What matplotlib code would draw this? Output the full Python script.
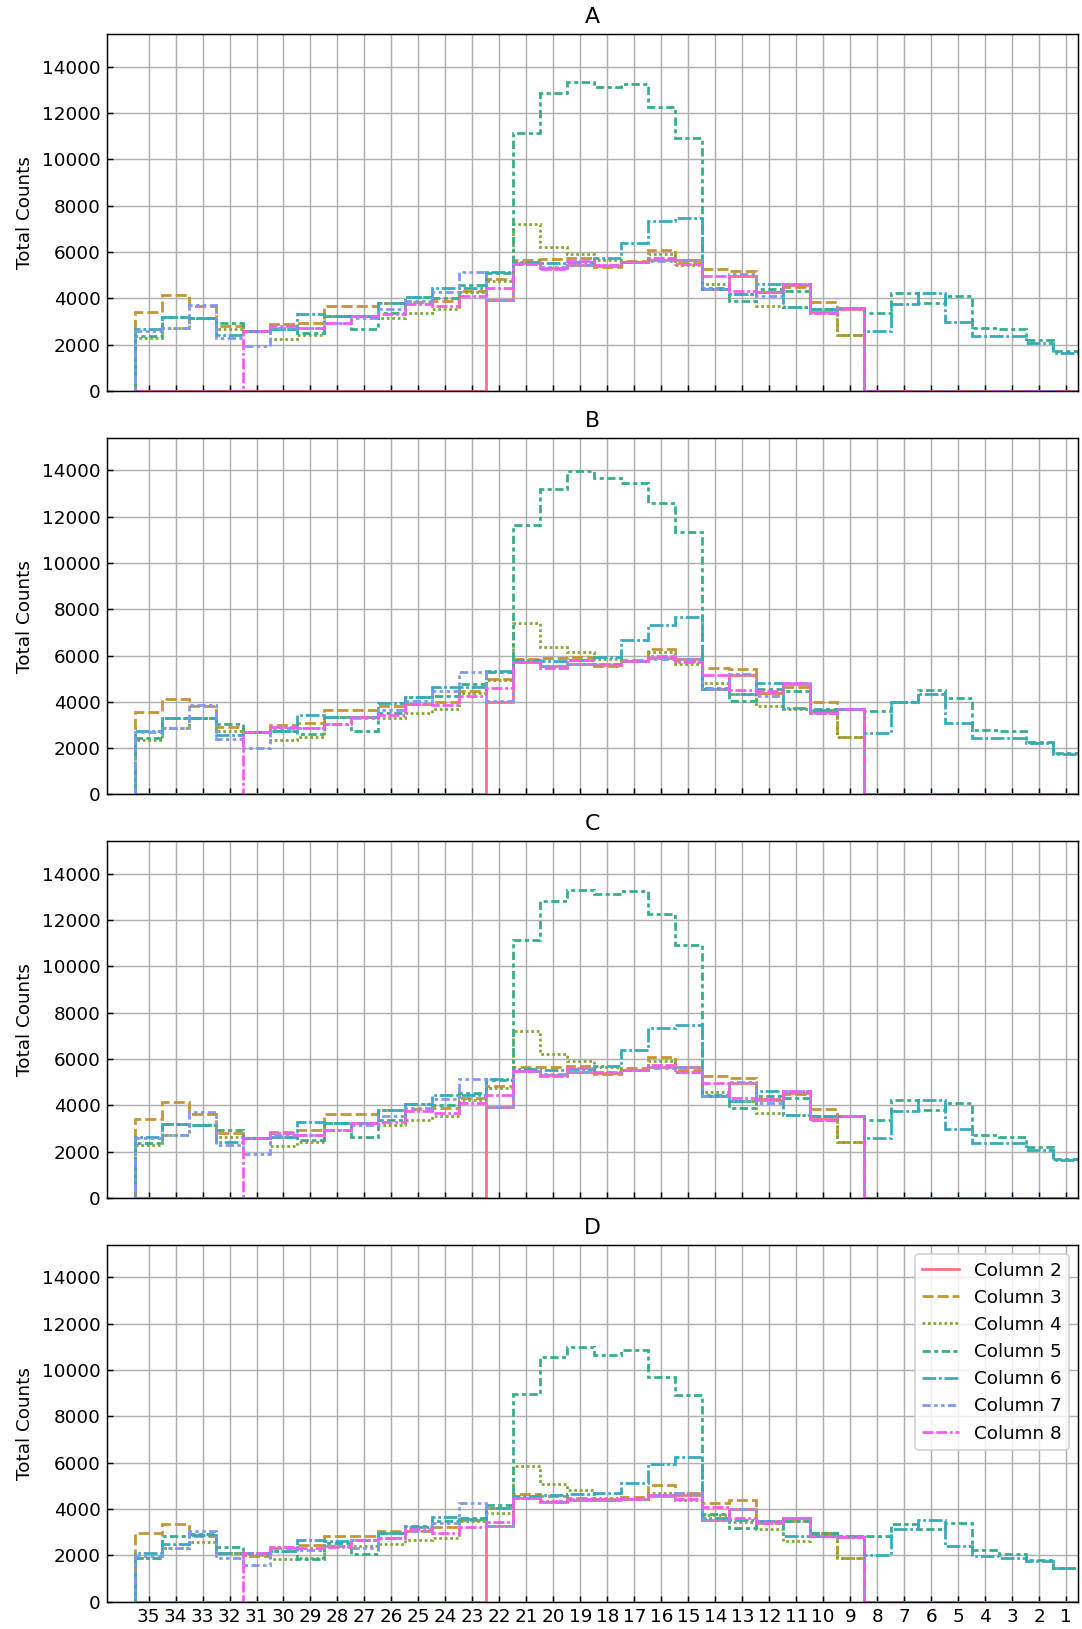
import numpy as np
import matplotlib
matplotlib.use("Agg")
import matplotlib.pyplot as plt
from matplotlib.lines import Line2D
import seaborn as sns

# x labels, left to right
labels = list(range(35, 0, -1))
columns = ["Column 2", "Column 3", "Column 4", "Column 5", "Column 6", "Column 7", "Column 8"]
panels = ["A", "B", "C", "D"]

# ---- Panel A (values for bins 35 ... 1, left to right) ----
A_c2 = [0]*13 + [3920, 5500, 5300, 5450, 5400, 5550, 5650, 5650, 4400, 4950, 4250, 4550, 3400, 3550] + [0]*8
A_c3 = [3410, 4150, 3650, 2800, 2600, 2870, 2950, 3650, 3650, 3800, 3850, 3900, 4300, 4820, 5640, 5680, 5720, 5350, 5600, 6070, 5540, 5250, 5180, 4260, 4480, 3850, 2430] + [0]*8
A_c4 = [2290, 2730, 3160, 2650, 2580, 2240, 2430, 3240, 3240, 3160, 3350, 3550, 4250, 4750, 7210, 6210, 5920, 5640, 5550, 5920, 5450, 4600, 4200, 3680, 3600, 3530, 2430] + [0]*8
A_c5 = [2360, 3200, 3160, 2920, 2580, 2650, 2500, 3240, 2650, 3380, 4040, 4000, 4550, 5100, 11130, 12850, 13320, 13140, 13240, 12280, 10910, 4450, 3890, 4410, 4300, 3550, 3560, 3380, 4230, 3790, 4110, 2720, 2650, 2210, 1700]
A_c6 = [2650, 3200, 3160, 2430, 2580, 2650, 3300, 3240, 3240, 3800, 4040, 4450, 4460, 5150, 5580, 5540, 5580, 5720, 6400, 7330, 7470, 4390, 4170, 4630, 3600, 3530, 3560, 2580, 3750, 4230, 2970, 2360, 2360, 2060, 1650]
A_c7 = [2580, 2730, 3700, 2290, 1920, 2730, 2730, 2940, 3160, 3530, 3900, 4260, 5150, 3910, 5490, 5350, 5450, 5430, 5550, 5600, 5640, 4390, 5030, 4100, 4630, 3380, 3560] + [0]*8
A_c8 = [0]*4 + [2580, 2800, 2730, 2940, 3240, 3300, 3750, 3680, 4100, 4460, 5490, 5250, 5610, 5430, 5550, 5750, 5460, 4960, 4320, 4260, 4630, 3380, 3560] + [0]*8

# ---- Panel B ----
B_c2 = [0]*13 + [4000, 5700, 5550, 5650, 5600, 5750, 5900, 5850, 4550, 5150, 4400, 4750, 3550, 3700] + [0]*8
B_c3 = [3550, 4100, 3800, 2900, 2700, 2980, 3070, 3650, 3650, 3800, 3900, 4000, 4450, 5000, 5850, 5900, 5950, 5550, 5800, 6300, 5750, 5450, 5400, 4400, 4650, 4000, 2500] + [0]*8
B_c4 = [2350, 2850, 3300, 2750, 2700, 2350, 2500, 3350, 3350, 3300, 3500, 3700, 4400, 4950, 7400, 6350, 6150, 5850, 5750, 6150, 5650, 4800, 4350, 3800, 3700, 3650, 2500] + [0]*8
B_c5 = [2450, 3300, 3300, 3050, 2700, 2750, 2600, 3350, 2750, 3500, 4200, 4250, 4750, 5300, 11650, 13200, 13950, 13650, 13450, 12600, 11350, 4600, 4050, 4550, 4450, 3700, 3700, 3600, 4000, 4500, 4150, 2800, 2750, 2250, 1800]
B_c6 = [2750, 3300, 3300, 2550, 2700, 2750, 3450, 3350, 3350, 3950, 4200, 4650, 4650, 5350, 5800, 5750, 5800, 5950, 6650, 7300, 7650, 4550, 4350, 4800, 3750, 3650, 3700, 2650, 4000, 4350, 3100, 2450, 2450, 2200, 1750]
B_c7 = [2700, 2850, 3850, 2400, 2000, 2850, 2850, 3050, 3300, 3650, 4050, 4450, 5300, 4050, 5700, 5550, 5650, 5650, 5750, 5850, 5850, 4550, 5200, 4250, 4800, 3500, 3700] + [0]*8
B_c8 = [0]*4 + [2700, 2900, 2850, 3050, 3350, 3450, 3900, 3850, 4250, 4600, 5700, 5450, 5800, 5650, 5750, 6000, 5700, 5150, 4500, 4450, 4800, 3500, 3700] + [0]*8

# ---- Panel C ----
C_c2 = [0]*13 + [3920, 5500, 5300, 5450, 5400, 5550, 5650, 5650, 4400, 4950, 4250, 4550, 3400, 3550] + [0]*8
C_c3 = [3410, 4150, 3650, 2800, 2600, 2870, 2950, 3650, 3650, 3800, 3850, 3900, 4300, 4820, 5640, 5680, 5720, 5350, 5600, 6070, 5540, 5250, 5180, 4260, 4480, 3850, 2430] + [0]*8
C_c4 = [2290, 2730, 3160, 2650, 2580, 2240, 2430, 3240, 3240, 3160, 3350, 3550, 4250, 4750, 7210, 6210, 5920, 5640, 5550, 5920, 5450, 4600, 4200, 3680, 3600, 3530, 2430] + [0]*8
C_c5 = [2360, 3200, 3160, 2920, 2580, 2650, 2500, 3240, 2650, 3380, 4040, 4000, 4550, 5100, 11130, 12850, 13320, 13140, 13240, 12280, 10910, 4450, 3890, 4410, 4300, 3550, 3560, 3380, 4230, 3790, 4110, 2720, 2650, 2210, 1700]
C_c6 = [2650, 3200, 3160, 2430, 2580, 2650, 3300, 3240, 3240, 3800, 4040, 4450, 4460, 5150, 5580, 5540, 5580, 5720, 6400, 7330, 7470, 4390, 4170, 4630, 3600, 3530, 3560, 2580, 3750, 4230, 2970, 2360, 2360, 2060, 1650]
C_c7 = [2580, 2730, 3700, 2290, 1920, 2730, 2730, 2940, 3160, 3530, 3900, 4260, 5150, 3910, 5490, 5350, 5450, 5430, 5550, 5600, 5640, 4390, 5030, 4100, 4630, 3380, 3560] + [0]*8
C_c8 = [0]*4 + [2580, 2800, 2730, 2940, 3240, 3300, 3750, 3680, 4100, 4460, 5490, 5250, 5610, 5430, 5550, 5750, 5460, 4960, 4320, 4260, 4630, 3380, 3560] + [0]*8

# ---- Panel D ----
D_c2 = [0]*13 + [3270, 4460, 4320, 4400, 4400, 4450, 4550, 4600, 3530, 3990, 3480, 3630, 2830, 2780] + [0]*8
D_c3 = [2970, 3340, 2830, 2100, 1960, 2320, 2440, 2830, 2830, 3050, 3070, 3210, 3530, 4030, 4650, 4560, 4480, 4440, 4500, 5040, 4710, 4250, 4390, 3410, 3500, 2970, 1890] + [0]*8
D_c4 = [1890, 2320, 2580, 2100, 2000, 1860, 1900, 2390, 2390, 2470, 2680, 2730, 3500, 3840, 5860, 5080, 4820, 4470, 4450, 4700, 4390, 3750, 3450, 3120, 2610, 2970, 1890] + [0]*8
D_c5 = [1890, 2830, 2900, 2350, 2100, 2180, 1860, 2540, 2060, 2970, 3260, 3500, 3600, 4170, 8960, 10580, 11010, 10650, 10860, 9680, 8920, 3780, 3170, 3480, 3480, 2970, 2830, 2830, 3340, 3120, 3410, 2250, 2060, 1810, 1450]
D_c6 = [2100, 2470, 2870, 2100, 2100, 2200, 2640, 2600, 2680, 2970, 3220, 3640, 3550, 4030, 4560, 4600, 4630, 4680, 5110, 5940, 6230, 3600, 3530, 3480, 2830, 2830, 2830, 2000, 3120, 3520, 2390, 1960, 1890, 1740, 1450]
D_c7 = [1960, 2320, 3050, 1890, 1600, 2350, 2250, 2390, 2320, 2760, 3050, 3380, 4270, 3270, 4460, 4320, 4380, 4400, 4450, 4600, 4710, 3530, 3990, 3480, 3630, 2830, 2780] + [0]*8
D_c8 = [0]*4 + [2100, 2350, 2320, 2350, 2680, 2760, 3120, 2950, 3240, 3450, 4460, 4360, 4450, 4450, 4450, 4600, 4450, 4100, 3600, 3400, 3600, 2830, 2780] + [0]*8

panel_data = {
    "A": [A_c2, A_c3, A_c4, A_c5, A_c6, A_c7, A_c8],
    "B": [B_c2, B_c3, B_c4, B_c5, B_c6, B_c7, B_c8],
    "C": [C_c2, C_c3, C_c4, C_c5, C_c6, C_c7, C_c8],
    "D": [D_c2, D_c3, D_c4, D_c5, D_c6, D_c7, D_c8],
}

colors = sns.color_palette("husl", 7)
dashes = [None, (4, 1.5), (1, 1), (3, 1.25, 1.5, 1.25), (5, 1, 1, 1),
          (3, 1.25, 1.25, 1.25, 1.25, 1.25), (4, 1, 4, 1, 1, 1)]

def ls(d):
    return "-" if d is None else (0, d)

DPI = 132
fig, axes = plt.subplots(4, 1, figsize=(1082 / DPI, 1629 / DPI), dpi=DPI, sharex=True)
fig.subplots_adjust(left=107 / 1082, right=1078 / 1082, top=1 - 34.3 / 1629,
                    bottom=1 - 1601.6 / 1629, hspace=0.132)

pos = np.array(labels)
order = np.argsort(pos)
edges = np.arange(0.5, 36.5, 1.0)

for ax, name in zip(axes, panels):
    ax.set_axisbelow(True)
    ax.grid(True, color="#b0b0b0", linewidth=0.8)
    for i, vals in enumerate(panel_data[name]):
        v = np.array(vals, dtype=float)[order]
        ax.stairs(v, edges, baseline=0, fill=False, color=colors[i],
                  linestyle=ls(dashes[i]), linewidth=1.5)
    ax.set_xlim(36.54, 0.56)
    ax.set_ylim(0, 15400)
    ax.set_yticks(np.arange(0, 14001, 2000))
    ax.set_xticks(pos)
    ax.set_xticklabels([str(l) for l in labels])
    ax.tick_params(direction="in")
    ax.set_ylabel("Total Counts")
    ax.set_title(name)

handles = [Line2D([], [], color=colors[i], linestyle=ls(dashes[i]), linewidth=1.5)
           for i in range(7)]
axes[-1].legend(handles, columns, loc="upper right")

fig.savefig("out.png", dpi=DPI)
